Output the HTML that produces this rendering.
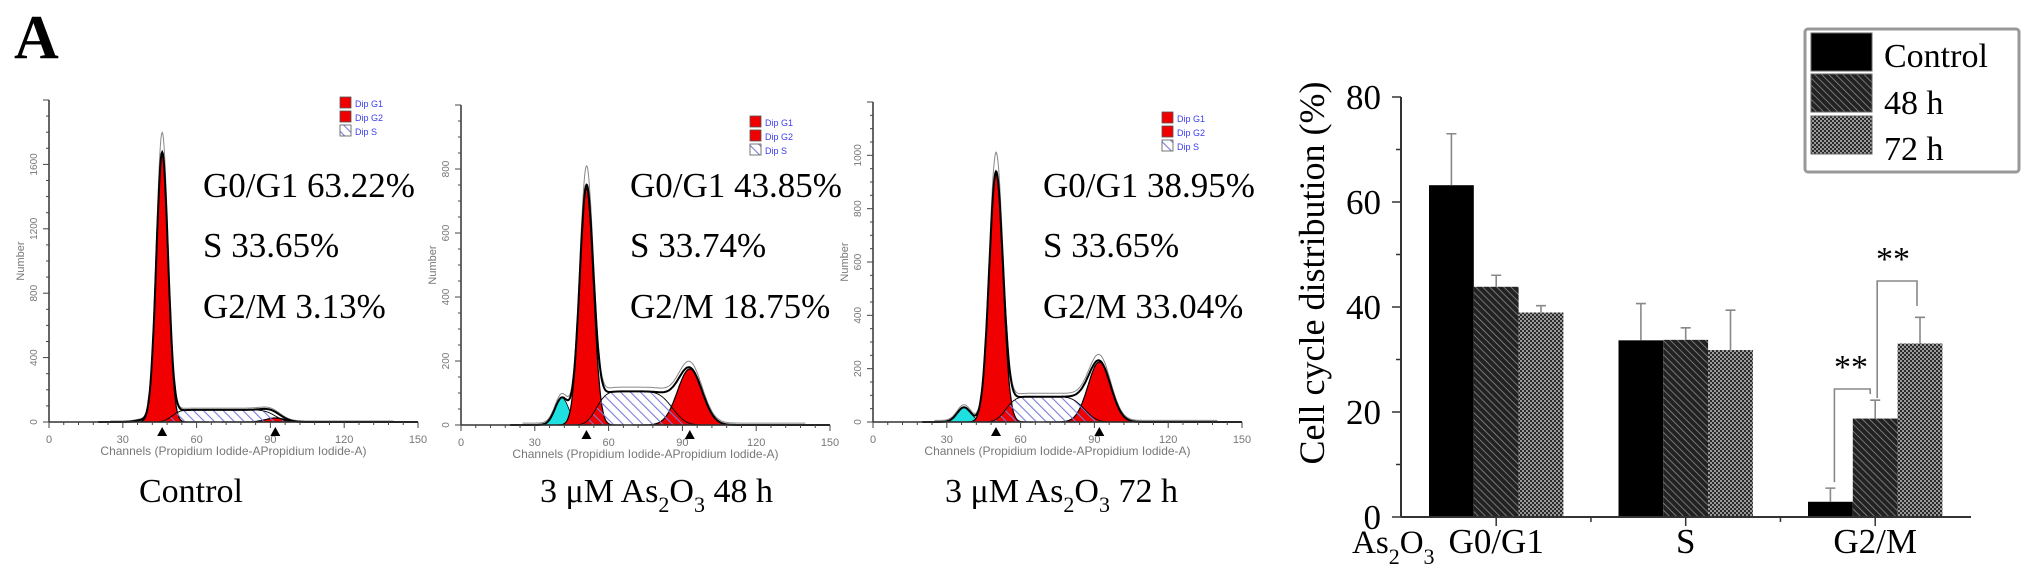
<!DOCTYPE html>
<html><head><meta charset="utf-8"><style>
html,body{margin:0;padding:0;background:#fff;}
svg{display:block;}
</style></head><body>
<svg id="fig" xmlns="http://www.w3.org/2000/svg" width="2031" height="580" viewBox="0 0 2031 580">
<defs>
<pattern id="hatchS" patternUnits="userSpaceOnUse" width="7" height="7" patternTransform="rotate(-45)">
<line x1="0" y1="0" x2="0" y2="7" stroke="#7b7bdc" stroke-width="2.2"/>
</pattern>
<pattern id="p48" patternUnits="userSpaceOnUse" width="5" height="5" patternTransform="rotate(-45)">
<rect width="5" height="5" fill="#222"/>
<line x1="0" y1="0" x2="0" y2="5" stroke="#8a8a8a" stroke-width="1.6"/>
</pattern>
<pattern id="p72" patternUnits="userSpaceOnUse" width="4" height="4">
<rect width="4" height="4" fill="#2a2a2a"/>
<rect x="0" y="0" width="2" height="2" fill="#9a9a9a"/>
<rect x="2" y="2" width="2" height="2" fill="#9a9a9a"/>
</pattern>
</defs>
<text x="14" y="58" font-family="Liberation Serif, serif" font-weight="bold" font-size="62">A</text>
<g id="hists"></g>
<g id="bars"></g>
</svg>
<script>
// ---------- Histogram data ----------
const histYMax = [2000, 1000, 1200];
const histYTickStep = [400, 200, 200];
const g1Mean = [46, 51, 50];
const g1Height = [1670, 740, 930];
const g1Sigma = [2.4, 2.8, 2.8];
const g2Mean = [92, 93, 92];
const g2Height = [25, 175, 225];
const g2Sigma = [4, 5, 4.6];
const sStart = [50, 55, 54];
const sEnd = [92, 86, 86];
const sHeight = [75, 105, 95];
const debrisMean = [38, 41, 37];
const debrisHeight = [12, 85, 55];
const pctG1 = ["G0/G1 63.22%", "G0/G1 43.85%", "G0/G1 38.95%"];
const pctS = ["S 33.65%", "S 33.74%", "S 33.65%"];
const pctG2 = ["G2/M 3.13%", "G2/M 18.75%", "G2/M 33.04%"];
const xTickLabels = ["0", "30", "60", "90", "120", "150"];

// ---------- Bar chart data ----------
const phases = ["G0/G1", "S", "G2/M"];
const seriesNames = ["Control", "48 h", "72 h"];
const controlVals = [63.2, 33.65, 2.9];
const h48Vals = [43.85, 33.74, 18.75];
const h72Vals = [38.95, 31.8, 33.04];
const controlErr = [9.8, 7.0, 2.6];
const h48Err = [2.2, 2.3, 3.5];
const h72Err = [1.3, 7.6, 5.0];
const barYTicks = [0, 20, 40, 60, 80];

const NS = "http://www.w3.org/2000/svg";
function mk(tag, attrs, parent, text) {
  const e = document.createElementNS(NS, tag);
  for (const k in attrs) e.setAttribute(k, attrs[k]);
  if (text !== undefined) e.textContent = text;
  parent.appendChild(e);
  return e;
}
const gauss = (x, m, s, h) => h * Math.exp(-0.5 * ((x - m) / s) ** 2);
function erf(x){const t=1/(1+0.3275911*Math.abs(x));const y=1-(((((1.061405429*t-1.453152027)*t)+1.421413741)*t-0.284496736)*t+0.254829592)*t*Math.exp(-x*x);return x>=0?y:-y;}

const axisX = [49, 461, 873];
const baseY = [422, 425, 422];
const topY = [100, 105, 102];
const pxPerCh = 2.46;
const textX = [203, 630, 1043];
const legX = [340, 750, 1162];
const legY = [103, 122, 118];
const captions = [
  {x: 139, parts: [["Control", 0]]},
  {x: 540, parts: [["3 μM As", 0], ["2", 1], ["O", 0], ["3", 1], [" 48 h", 0]]},
  {x: 945, parts: [["3 μM  As", 0], ["2", 1], ["O", 0], ["3", 1], [" 72 h", 0]]}
];

const hists = document.getElementById("hists");
for (let p = 0; p < 3; p++) {
  const g = mk("g", {}, hists);
  
  
  const X = ch => axisX[p] + ch * pxPerCh;
  const Y = v => baseY[p] - v * (baseY[p] - topY[p]) / histYMax[p];
  const sFn = ch => sHeight[p] * 0.5 * (1 + erf((ch - sStart[p]) / (g1Sigma[p] * 1.6))) * 0.5 * (1 - erf((ch - sEnd[p]) / (g2Sigma[p] * 1.2)));
  const comp = {
    g1: ch => gauss(ch, g1Mean[p], g1Sigma[p], g1Height[p]),
    g2: ch => gauss(ch, g2Mean[p], g2Sigma[p], g2Height[p]),
    s: sFn,
    deb: ch => gauss(ch, debrisMean[p], 2.8, debrisHeight[p])
  };
  const area = (fn, x0, x1) => {
    let d = "M" + X(x0) + "," + Y(0);
    for (let c = x0; c <= x1; c += 0.25) d += "L" + X(c).toFixed(1) + "," + Y(fn(c)).toFixed(1);
    return d + "L" + X(x1) + "," + Y(0) + "Z";
  };
  const line = (fn, x0, x1) => {
    let d = "";
    for (let c = x0; c <= x1; c += 0.25) d += (d ? "L" : "M") + X(c).toFixed(1) + "," + Y(fn(c)).toFixed(1);
    return d;
  };
  const deb = mk("path", {d: area(comp.deb, 25, 50), fill: "#1ee0e0", stroke: "#000", "stroke-width": 0.8}, g);
  
  
  mk("path", {d: area(comp.s, 35, 110), fill: "#fff", stroke: "none"}, g);
  const g1 = mk("path", {d: area(comp.g1, 30, 65), fill: "#f00000", stroke: "#000", "stroke-width": 1.2}, g);
  
  
  const g2 = mk("path", {d: area(comp.g2, 70, 115), fill: "#f00000", stroke: "#000", "stroke-width": 1.2}, g);
  
  
  const sp = mk("path", {d: area(comp.s, 35, 110), fill: "url(#hatchS)", stroke: "#000", "stroke-width": 0.9}, g);
  
  
  const tot = ch => comp.g1(ch) + comp.g2(ch) + comp.s(ch) + comp.deb(ch);
  const gl = mk("path", {d: line(ch => tot(ch) * 1.07 + 6, 25, 140), fill: "none", stroke: "#888", "stroke-width": 1}, g);
  
  
  const env = mk("path", {d: line(tot, 20, 150), fill: "none", stroke: "#000", "stroke-width": 2}, g);
  
  
  mk("line", {x1: axisX[p], y1: topY[p], x2: axisX[p], y2: baseY[p], stroke: "#333", "stroke-width": 1.5}, g);
  mk("line", {x1: axisX[p], y1: baseY[p], x2: X(150), y2: baseY[p], stroke: "#333", "stroke-width": 1.5}, g);
  const minorY = histYTickStep[p] / 4;
  for (let v = 0; v <= histYMax[p]; v += minorY) {
    const major = Math.abs(v % histYTickStep[p]) < 1e-6;
    mk("line", {x1: axisX[p] - (major ? 6 : 3), y1: Y(v), x2: axisX[p], y2: Y(v), stroke: "#444", "stroke-width": 1}, g);
    if (major && v < histYMax[p]) {
      const t = mk("text", {x: axisX[p] - 12, y: Y(v), transform: `rotate(-90 ${axisX[p] - 12} ${Y(v)})`, "text-anchor": "middle", "font-family": "Liberation Sans, sans-serif", "font-size": 10, fill: "#777"}, g, String(v));
      
      
    }
  }
  const my = (baseY[p] + topY[p]) / 2;
  const nl = mk("text", {x: axisX[p] - 25, y: my, transform: `rotate(-90 ${axisX[p] - 25} ${my})`, "text-anchor": "middle", "font-family": "Liberation Sans, sans-serif", "font-size": 11, fill: "#777"}, g, "Number");
  
  
  for (let c = 0; c <= 150; c += 6) {
    const major = c % 30 === 0;
    mk("line", {x1: X(c), y1: baseY[p], x2: X(c), y2: baseY[p] + (major ? 6 : 3), stroke: "#444", "stroke-width": 1}, g);
  }
  xTickLabels.forEach((lab, i) => {
    const t = mk("text", {x: X(i * 30), y: baseY[p] + 21, "text-anchor": "middle", "font-family": "Liberation Sans, sans-serif", "font-size": 11, fill: "#777"}, g, lab);
    
    
  });
  const xt = mk("text", {x: X(75), y: baseY[p] + 33, "text-anchor": "middle", "font-family": "Liberation Sans, sans-serif", "font-size": 12, fill: "#777"}, g, "Channels (Propidium Iodide-APropidium Iodide-A)");
  
  
  [g1Mean[p], g2Mean[p]].forEach(m => {
    const tri = mk("path", {d: `M${X(m)},${baseY[p] + 5}l-5,9h10z`, fill: "#000"}, g);
    
    
  });
  const leg = mk("g", {}, g);
  
  
  ["Dip G1", "Dip G2", "Dip S"].forEach((lab, i) => {
    const yy = legY[p] + i * 14;
    mk("rect", {x: legX[p], y: yy - 6, width: 11, height: 11, fill: i < 2 ? "#f00000" : "url(#hatchS)", stroke: "#555", "stroke-width": 0.8}, leg);
    mk("text", {x: legX[p] + 15, y: yy + 4, "font-family": "Liberation Sans, sans-serif", "font-size": 9, fill: "#3b3bf0"}, leg, lab);
  });
  [pctG1[p], pctS[p], pctG2[p]].forEach((s, i) => {
    const t = mk("text", {x: textX[p], y: [197, 257, 318][i], "font-family": "Liberation Serif, serif", "font-size": 35, fill: "#000"}, g, s);
    
    
  });
  const cap = mk("text", {x: captions[p].x, y: 502, "font-family": "Liberation Serif, serif", "font-size": 34, fill: "#000"}, g);
  
  
  captions[p].parts.forEach(([t, sub]) => {
    mk("tspan", sub ? {"font-size": 22, dy: 10} : {dy: cap.dataset.sub ? -10 : 0}, cap, t);
    cap.dataset.sub = sub ? "1" : "";
  });
}

// ---------- Bar chart ----------
const bars = document.getElementById("bars");
const bAxisX = 1401, bBase = 517, bTop = 97, bRight = 1971;
const by = v => bBase - v * (bBase - bTop) / 80;
const groupStart = i => 1429 + i * 189.5;
const barW = 44.8;
const fills = ["#000", "url(#p48)", "url(#p72)"];
const vals = [controlVals, h48Vals, h72Vals];
const errs = [controlErr, h48Err, h72Err];
phases.forEach((ph, i) => {
  for (let s = 0; s < 3; s++) {
    const x = groupStart(i) + s * barW;
    const r = mk("rect", {x: x, y: by(vals[s][i]), width: barW, height: bBase - by(vals[s][i]), fill: fills[s]}, bars);
    
    
    const cx = x + barW / 2;
    const eb = mk("path", {d: `M${cx},${by(vals[s][i])}V${by(vals[s][i] + errs[s][i])}M${cx - 5},${by(vals[s][i] + errs[s][i])}h10`, stroke: "#888", "stroke-width": 1.6, fill: "none"}, bars);
    
    
  }
  const gc = groupStart(i) + 1.5 * barW;
  mk("line", {x1: gc, y1: bBase, x2: gc, y2: bBase + 9, stroke: "#333", "stroke-width": 1.5}, bars);
  if (i < 2) mk("line", {x1: gc + 94.75, y1: bBase, x2: gc + 94.75, y2: bBase + 5, stroke: "#333", "stroke-width": 1.5}, bars);
  const t = mk("text", {x: gc, y: 553, "text-anchor": "middle", "font-family": "Liberation Serif, serif", "font-size": 35}, bars, ph);
  
  
});
mk("line", {x1: bAxisX, y1: bTop, x2: bAxisX, y2: bBase, stroke: "#333", "stroke-width": 2}, bars);
mk("line", {x1: bAxisX, y1: bBase, x2: bRight, y2: bBase, stroke: "#333", "stroke-width": 2}, bars);
for (let v = 0; v <= 80; v += 10) {
  const major = v % 20 === 0;
  mk("line", {x1: bAxisX - (major ? 9 : 5), y1: by(v), x2: bAxisX, y2: by(v), stroke: "#333", "stroke-width": 1.5}, bars);
}
barYTicks.forEach(v => {
  const t = mk("text", {x: 1381, y: by(v) + 12, "text-anchor": "end", "font-family": "Liberation Serif, serif", "font-size": 35}, bars, String(v));
  
  
});
const yl = mk("text", {x: 1324, y: 273, transform: "rotate(-90 1324 273)", "text-anchor": "middle", "font-family": "Liberation Serif, serif", "font-size": 36}, bars, "Cell cycle distribution (%)");


const asl = mk("text", {x: 1352, y: 553, "font-family": "Liberation Serif, serif", "font-size": 33}, bars);


mk("tspan", {}, asl, "As");
mk("tspan", {"font-size": 22, dy: 11}, asl, "2");
mk("tspan", {dy: -11}, asl, "O");
mk("tspan", {"font-size": 22, dy: 11}, asl, "3");
const gc2 = groupStart(2);
const c0 = gc2 + barW / 2, c1 = gc2 + 1.5 * barW, c2 = gc2 + 2.5 * barW;
const br1 = mk("path", {d: `M${c0 + 4},${by(controlVals[2] + controlErr[2]) - 6}V389H${c1 - 5}V394`, stroke: "#888", "stroke-width": 1.6, fill: "none"}, bars);


const br2 = mk("path", {d: `M${c1 + 2},398V281H${c2 - 3}V306`, stroke: "#888", "stroke-width": 1.6, fill: "none"}, bars);


[[1851, 378], [1893, 270]].forEach(([x, y]) => {
  const t = mk("text", {x: x, y: y, "text-anchor": "middle", "font-family": "Liberation Serif, serif", "font-size": 34}, bars, "**");
  
  
});
const lg = mk("g", {}, bars);


mk("rect", {x: 1805, y: 29, width: 214, height: 143, rx: 3, fill: "#fff", stroke: "#999", "stroke-width": 3}, lg);
seriesNames.forEach((n, i) => {
  const yy = [33, 74, 116][i];
  mk("rect", {x: 1811, y: yy, width: 61, height: 38, fill: fills[i], stroke: "#666", "stroke-width": 1}, lg);
  mk("text", {x: 1884, y: [67, 114, 160][i], "font-family": "Liberation Serif, serif", "font-size": 34}, lg, n);
});
</script>
</body></html>
